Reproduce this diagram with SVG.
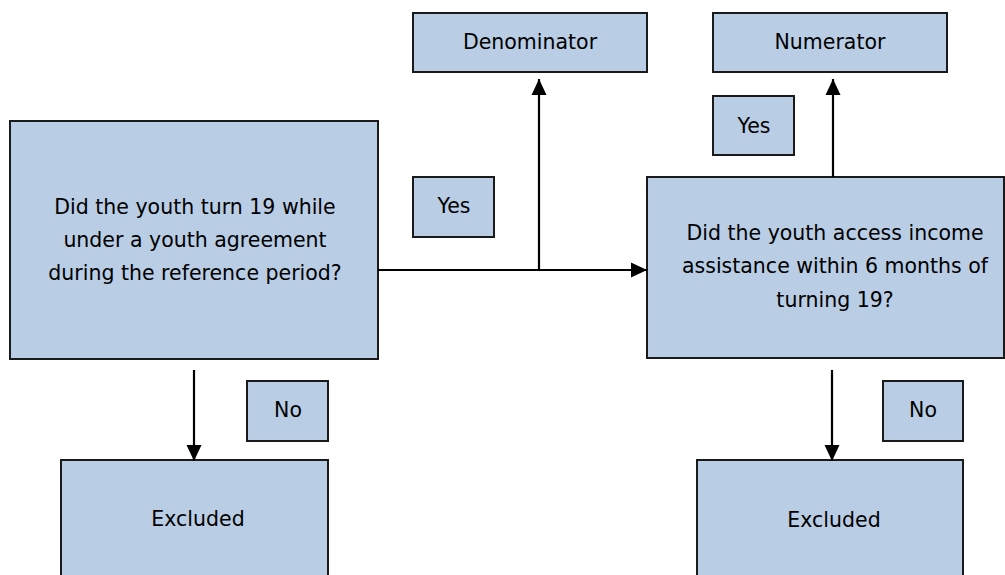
<svg xmlns="http://www.w3.org/2000/svg" width="1005" height="575" viewBox="0 0 1005 575">
  <style>
    .box { fill: #B9CDE5; stroke: #1a1a1a; stroke-width: 2; }
    .lbl { font-family: "DejaVu Sans", "Liberation Sans", sans-serif; font-size: 20.5px; fill: #000; text-anchor: middle; }
    .conn { stroke: #000; stroke-width: 2.2; fill: none; }
  </style>
  <defs>
    <marker id="arr" markerUnits="userSpaceOnUse" markerWidth="16" markerHeight="16" viewBox="0 0 16 16" refX="16" refY="8" orient="auto">
      <path d="M0,0.5 L16,8 L0,15.5 Z" fill="#000"/>
    </marker>
  </defs>
  <rect width="1005" height="575" fill="#fff"/>

  <g id="q1">
    <rect class="box" x="10" y="121" width="368" height="238"/>
    <text class="lbl" x="195" y="214">Did the youth turn 19 while</text>
    <text class="lbl" x="195" y="247">under a youth agreement</text>
    <text class="lbl" x="195" y="280">during the reference period?</text>
  </g>
  <g id="denominator">
    <rect class="box" x="413" y="13" width="234" height="59"/>
    <text class="lbl" x="530" y="49">Denominator</text>
  </g>
  <g id="yes1">
    <rect class="box" x="413" y="177" width="81" height="60"/>
    <text class="lbl" x="454" y="213">Yes</text>
  </g>
  <g id="numerator">
    <rect class="box" x="713" y="13" width="234" height="59"/>
    <text class="lbl" x="830" y="49">Numerator</text>
  </g>
  <g id="yes2">
    <rect class="box" x="713" y="96" width="81" height="59"/>
    <text class="lbl" x="754" y="133">Yes</text>
  </g>
  <g id="q2">
    <rect class="box" x="647" y="177" width="357" height="181"/>
    <text class="lbl" x="835" y="240">Did the youth access income</text>
    <text class="lbl" x="835" y="273">assistance within 6 months of</text>
    <text class="lbl" x="835" y="307">turning 19?</text>
  </g>
  <g id="no1">
    <rect class="box" x="247" y="381" width="81" height="60"/>
    <text class="lbl" x="288" y="417">No</text>
  </g>
  <g id="excluded1">
    <rect class="box" x="61" y="460" width="267" height="130"/>
    <text class="lbl" x="198" y="526">Excluded</text>
  </g>
  <g id="no2">
    <rect class="box" x="883" y="381" width="80" height="60"/>
    <text class="lbl" x="923" y="417">No</text>
  </g>
  <g id="excluded2">
    <rect class="box" x="697" y="460" width="266" height="130"/>
    <text class="lbl" x="834" y="527">Excluded</text>
  </g>

  <g id="connectors">
    <line class="conn" x1="378" y1="270" x2="647" y2="270" marker-end="url(#arr)"/>
    <line class="conn" x1="539" y1="270" x2="539" y2="79" marker-end="url(#arr)"/>
    <line class="conn" x1="833" y1="177" x2="833" y2="79" marker-end="url(#arr)"/>
    <line class="conn" x1="194" y1="370" x2="194" y2="461" marker-end="url(#arr)"/>
    <line class="conn" x1="832" y1="370" x2="832" y2="461" marker-end="url(#arr)"/>
  </g>
</svg>
